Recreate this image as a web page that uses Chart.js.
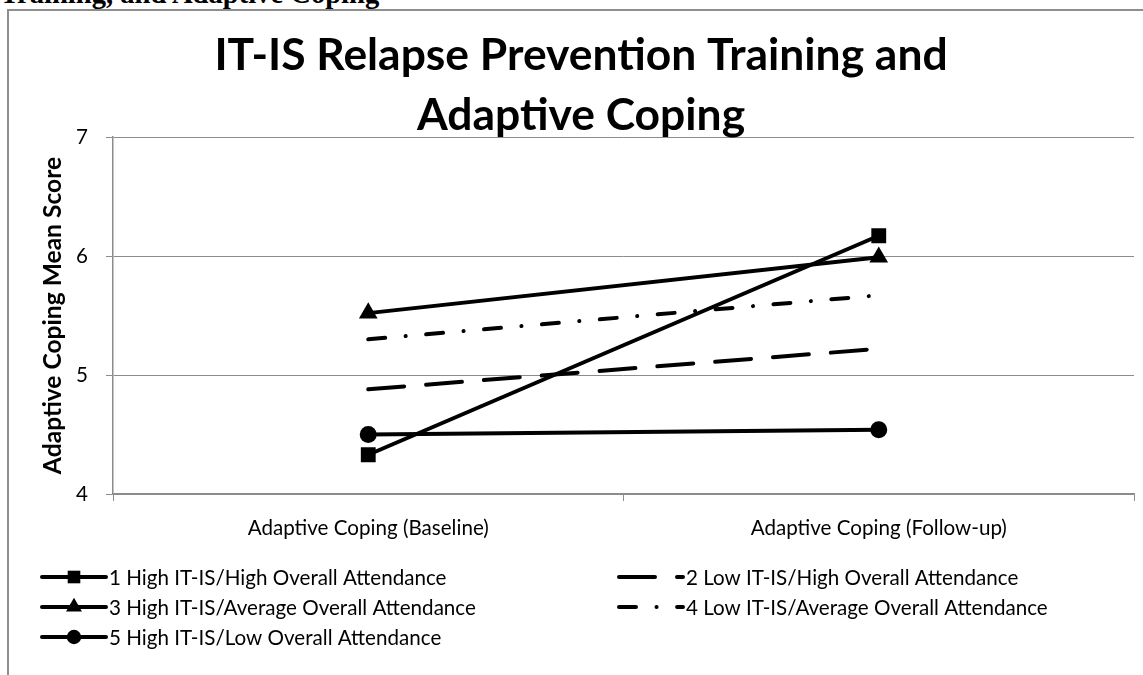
<!DOCTYPE html>
<html>
<head>
<meta charset="utf-8">
<script src="https://cdn.jsdelivr.net/npm/chart.js@4.4.1/dist/chart.umd.min.js"></script>
<style>
  html, body { margin: 0; padding: 0; background: #fff; overflow: hidden; width: 1143px; height: 675px; }
  #caption { position: absolute; left: 0; top: -20px; font: bold 28.6px "Liberation Serif", "Times New Roman", serif; line-height: 1; white-space: nowrap; color: #000; }
  #frame { position: absolute; left: 7px; top: 9px; width: 1144px; height: 690px; border: 2px solid #8e8e8e; }
  canvas { display: block; }
</style>
</head>
<body>
<div id="caption">Training, and Adaptive Coping</div>
<div id="frame"><canvas id="chart" width="1144" height="690"></canvas></div>
<script>
// values
const categories = ["Adaptive Coping (Baseline)", "Adaptive Coping (Follow-up)"];
const seriesNames = [
  "1 High IT-IS/High Overall Attendance",
  "2 Low IT-IS/High Overall Attendance",
  "3 High IT-IS/Average Overall Attendance",
  "4 Low IT-IS/Average Overall Attendance",
  "5 High IT-IS/Low Overall Attendance",
];
const highHigh = [4.33, 6.17];
const lowHigh = [4.88, 5.22];
const highAvg = [5.52, 5.99];
const lowAvg = [5.30, 5.67];
const highLow = [4.50, 4.54];
const yTicks = [4, 5, 6, 7];
const titleLines = ["IT-IS Relapse Prevention Training and", "Adaptive Coping"];
const yTitle = "Adaptive Coping Mean Score";

const seriesValues = [highHigh, lowHigh, highAvg, lowAvg, highLow];

// line / marker look per series
const styles = [
  { dash: [], point: "rect", r: 10.5 },
  { dash: [36, 22], point: "circle", r: 0 },
  { dash: [], point: "triangle", r: 10.8 },
  { dash: [17, 20.5, 0.1, 20.5], point: "circle", r: 0 },
  { dash: [], point: "circle", r: 8.5 },
];

const FONT = "Lato, 'Open Sans', sans-serif";
const GRID = "#8c8c8c";

// size fonts so the text spans the same width as in the reference
function fitSize(text, weight, width) {
  const c = document.createElement("canvas").getContext("2d");
  c.font = `${weight} 100px ${FONT}`;
  return Math.round((1000 * width) / c.measureText(text).width) / 10;
}
const titleSize = fitSize(titleLines[0], "bold", 733);
const yTitleSize = fitSize(yTitle, "bold", 317);
const labelSize = fitSize(seriesNames[0], "normal", 338);

Chart.defaults.font.family = FONT;
Chart.defaults.color = "#000";

// chart title and two-column legend drawn by hand
const decor = {
  id: "decor",
  afterDraw(chart) {
    const ctx = chart.ctx;
    ctx.save();
    ctx.fillStyle = "#000";
    ctx.strokeStyle = "#000";
    ctx.textAlign = "center";
    ctx.textBaseline = "alphabetic";
    ctx.font = `bold ${titleSize}px ${FONT}`;
    titleLines.forEach((t, i) => ctx.fillText(t, chart.width / 2, 59 + i * 60));

    chart.data.datasets.forEach((ds, i) => {
      const x = i % 2 ? 610 : 33;
      const y = 566 + Math.floor(i / 2) * 30;
      ctx.beginPath();
      ctx.setLineDash(ds.borderDash);
      ctx.lineCap = "round";
      ctx.lineWidth = 4;
      ctx.moveTo(x, y);
      ctx.lineTo(x + 64, y);
      ctx.stroke();
      ctx.setLineDash([]);
      if (ds.pointRadius > 0) {
        Chart.helpers.drawPoint(ctx, {
          pointStyle: ds.pointStyle,
          radius: ds.pointRadius * 0.85,
          rotation: 0,
          borderWidth: 0,
        }, x + 32, y);
      }
      ctx.textAlign = "left";
      ctx.textBaseline = "middle";
      ctx.font = `${labelSize}px ${FONT}`;
      ctx.fillText(ds.label, x + 67, y + 1);
    });
    ctx.restore();
  },
};

new Chart(document.getElementById("chart").getContext("2d"), {
  type: "line",
  data: {
    labels: categories,
    datasets: seriesValues.map((vals, i) => ({
      label: seriesNames[i],
      data: vals,
      borderColor: "#000",
      backgroundColor: "#000",
      borderWidth: 4,
      borderDash: styles[i].dash,
      borderCapStyle: "round",
      pointStyle: styles[i].point,
      pointRadius: styles[i].r,
      pointBorderWidth: 0,
      pointBackgroundColor: "#000",
      tension: 0,
    })),
  },
  options: {
    responsive: false,
    animation: false,
    layout: { padding: { left: 0, right: 19, top: 126, bottom: 0 } },
    plugins: {
      legend: { display: false },
      title: { display: false },
      tooltip: { enabled: false },
    },
    scales: {
      x: {
        offset: true,
        grid: { offset: true, drawOnChartArea: false, tickLength: 7, color: GRID },
        border: { color: GRID, width: 1.5 },
        ticks: { font: { size: labelSize }, padding: 15, maxRotation: 0 },
        afterFit: (scale) => { scale.height = 207; },
      },
      y: {
        min: yTicks[0],
        max: yTicks[yTicks.length - 1],
        ticks: { stepSize: 1, font: { size: labelSize }, padding: 18 },
        grid: { color: GRID, lineWidth: 1, tickLength: 7 },
        border: { color: GRID, width: 1.5 },
        title: {
          display: true,
          text: yTitle,
          font: { size: yTitleSize, weight: "bold" },
          padding: { top: 29, bottom: 0 },
        },
        afterFit: (scale) => { scale.width = 104; },
      },
    },
  },
  plugins: [decor],
});
</script>
</body>
</html>
